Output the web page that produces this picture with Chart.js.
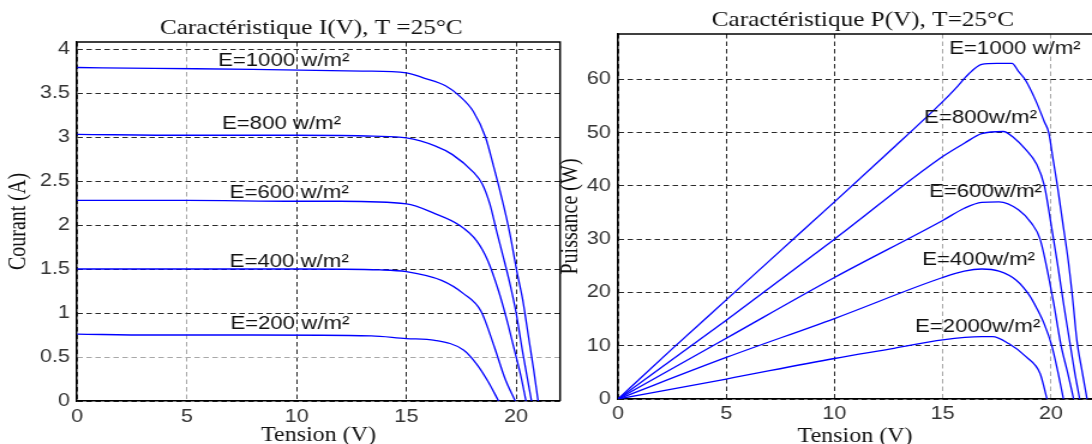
<!DOCTYPE html>
<html>
<head>
<meta charset="utf-8">
<title>Caractéristiques I(V) et P(V)</title>
<script src="https://cdn.jsdelivr.net/npm/chart.js@4"></script>
<style>
  html, body { margin: 0; padding: 0; background: #fff; }
  #wrap { position: relative; width: 1092px; height: 444px; overflow: hidden; }
  #wrap canvas { position: absolute; left: 0; top: 0; }
</style>
</head>
<body>
<div id="wrap">
  <canvas id="ivChart" width="910" height="444" style="width:1092px;height:444px"></canvas>
  <canvas id="pvChart" width="910" height="444" style="width:1092px;height:444px"></canvas>
</div>
<script>
// irradiance of each curve (W/m²)
const irradiance = [1000, 800, 600, 400, 200];

// I(V) curves
const ivVolts1000 = [0, 3.5, 8, 13, 15, 15.8, 16.8, 17.4, 18.05, 18.6, 19.0, 19.35, 19.7, 20.05, 20.3, 20.55, 20.8, 21.0];
const ivAmps1000  = [3.79, 3.78, 3.77, 3.75, 3.73, 3.67, 3.58, 3.47, 3.29, 3.0, 2.64, 2.3, 1.92, 1.45, 1.15, 0.75, 0.35, 0];
const ivVolts800  = [0, 5, 10, 13.5, 15, 16.3, 17.1, 18.05, 18.45, 18.8, 19.1, 19.4, 19.7, 20.0, 20.3, 20.7];
const ivAmps800   = [3.03, 3.02, 3.02, 3.01, 2.99, 2.9, 2.8, 2.6, 2.47, 2.24, 1.94, 1.65, 1.35, 1.0, 0.55, 0];
const ivVolts600  = [0, 5, 10, 12, 15, 16.3, 17.4, 18.2, 18.7, 19.2, 19.6, 19.9, 20.2, 20.45];
const ivAmps600   = [2.28, 2.28, 2.27, 2.27, 2.24, 2.13, 2.0, 1.82, 1.6, 1.25, 0.9, 0.6, 0.3, 0];
const ivVolts400  = [0, 5, 10, 13.8, 15, 16.6, 17.6, 18.4, 19.0, 19.5, 19.96];
const ivAmps400   = [1.5, 1.5, 1.5, 1.49, 1.47, 1.37, 1.22, 1.02, 0.62, 0.25, 0];
const ivVolts200  = [0, 3.4, 8, 13.4, 15, 16.3, 17.6, 18.2, 18.7, 19.2];
const ivAmps200   = [0.76, 0.75, 0.75, 0.74, 0.71, 0.69, 0.58, 0.42, 0.23, 0];

// P(V) curves
const pvVolts1000 = [0, 2.5, 5, 7.5, 10, 12.5, 15, 15.6, 16.2, 16.8, 17.5, 18.2, 18.5, 18.8, 19.3, 19.7, 19.9, 20.1, 20.3, 20.55, 20.8, 21.0, 21.2, 21.45, 21.67];
const pvWatts1000 = [0, 9.4, 18.6, 27.8, 37.0, 46.3, 55.8, 58.3, 61.0, 62.8, 63.0, 63.0, 61.5, 60, 56, 52, 50, 45, 40, 33, 26, 19, 11, 5, 0];
const pvVolts800  = [0, 5, 10, 15, 16, 16.8, 17.8, 18.3, 18.8, 19.35, 19.7, 20.0, 20.3, 20.6, 20.9, 21.1, 21.33];
const pvWatts800  = [0, 14.8, 30, 45.5, 48, 49.8, 50.2, 49, 47, 44, 40, 33, 25.5, 17.5, 10, 5, 0];
const pvVolts600  = [0, 5, 10, 15, 16, 16.8, 17.6, 18.5, 19.1, 19.5, 20.1, 20.47, 20.8, 21.05];
const pvWatts600  = [0, 11.4, 22.8, 33.5, 35.8, 36.9, 37, 35.5, 33, 30, 18.6, 10, 4.5, 0];
const pvVolts400  = [0, 5, 10, 15, 16, 16.8, 17.6, 18.4, 19.0, 19.35, 19.7, 20.04, 20.3, 20.58];
const pvWatts400  = [0, 7.8, 15.1, 22.8, 24.0, 24.4, 24.0, 22.3, 19.5, 17, 14, 10, 5.5, 0];
const pvVolts200  = [0, 5, 10, 12.75, 15, 16.8, 17.3, 18.05, 18.86, 19.5, 19.82];
const pvWatts200  = [0, 3.75, 7.6, 9.5, 11.1, 11.7, 11.7, 10.4, 7.9, 4.8, 0];

// ticks
const voltTicks = [0, 5, 10, 15, 20];
const currentTicks = [0, 0.5, 1, 1.5, 2, 2.5, 3, 3.5, 4];
const powerTicks = [0, 10, 20, 30, 40, 50, 60];

// curve annotations (text, then anchor in data units)
const ivNotes = ["E=1000 w/m²", "E=800 w/m²", "E=600 w/m²", "E=400 w/m²", "E=200 w/m²"];
const ivNoteV = [6.42, 6.6, 6.95, 6.95, 6.98];
const ivNoteI = [3.87, 3.15, 2.36, 1.58, 0.88];
const pvNotes = ["E=1000 w/m²", "E=800w/m²", "E=600w/m²", "E=400w/m²", "E=2000w/m²"];
const pvNoteV = [15.3, 14.14, 14.37, 14.05, 13.72];
const pvNoteP = [65.7, 52.7, 38.8, 26.1, 13.5];

const BLUE = "#0000ff";
const tickFont = { family: "Liberation Sans", size: 18 };
const axisTitleFont = { family: "Liberation Serif", size: 20, lineHeight: 1 };

function toPoints(xs, ys) {
  return xs.map((x, i) => ({ x: x, y: ys[i] }));
}

function curve(label, xs, ys) {
  return {
    label: label,
    data: toPoints(xs, ys),
    borderColor: BLUE,
    borderWidth: 1.3,
    pointRadius: 0,
    fill: false,
    cubicInterpolationMode: "monotone"
  };
}

// frame, curve labels and heading
const annotate = {
  id: "annotate",
  afterDatasetsDraw(chart, args, opts) {
    const { ctx, chartArea: a } = chart;
    const x = chart.scales.x, y = chart.scales.y;
    ctx.save();
    ctx.strokeStyle = "#000";
    ctx.lineWidth = 1.5;
    ctx.beginPath();
    ctx.moveTo(a.left, a.top);
    ctx.lineTo(a.right, a.top);
    if (opts.rightEdge) {
      ctx.lineTo(a.right, a.bottom);
    }
    ctx.stroke();

    ctx.fillStyle = "#111";
    ctx.font = '18.5px "Liberation Sans"';
    ctx.textAlign = "left";
    ctx.textBaseline = "middle";
    opts.texts.forEach((t, i) => {
      ctx.fillText(t, x.getPixelForValue(opts.xs[i]), y.getPixelForValue(opts.ys[i]));
    });

    ctx.font = '21px "Liberation Serif"';
    ctx.textAlign = "center";
    ctx.fillText(opts.heading, (a.left + a.right) / 2 + opts.headingDx, opts.headingY);
    ctx.restore();
  }
};

function gridColor(grey) {
  return c => (c.tick && grey.includes(c.tick.value) ? "#a8a8a8" : "#2a2a2a");
}

function xAxis(max, height, pad, titlePad, grey) {
  return {
    type: "linear",
    min: 0,
    max: max,
    afterBuildTicks: s => { s.ticks = voltTicks.map(v => ({ value: v })); },
    afterFit: s => { s.height = height; },
    ticks: { color: "#333", font: tickFont, padding: pad, maxRotation: 0, autoSkip: false, callback: v => String(v) },
    grid: { color: gridColor(grey), lineWidth: 1, drawTicks: false },
    border: { display: true, color: "#000", width: 1.5, dash: [4.5, 3] },
    title: { display: true, text: "Tension (V)", color: "#111", font: axisTitleFont, padding: { top: 0, bottom: titlePad } }
  };
}

function yAxis(max, tickList, title, titlePad, grey) {
  return {
    type: "linear",
    min: 0,
    max: max,
    afterBuildTicks: s => { s.ticks = tickList.map(v => ({ value: v })); },
    afterFit: s => { s.width = 60; },
    ticks: { color: "#333", font: tickFont, padding: 6, autoSkip: false, callback: v => String(v) },
    grid: { color: gridColor(grey), lineWidth: 1, drawTicks: false },
    border: { display: true, color: "#000", width: 1.5, dash: [4.5, 3] },
    title: { display: true, text: title, color: "#111", font: axisTitleFont, padding: { top: titlePad, bottom: 0 } }
  };
}

const ivCurves = [
  [ivVolts1000, ivAmps1000], [ivVolts800, ivAmps800], [ivVolts600, ivAmps600],
  [ivVolts400, ivAmps400], [ivVolts200, ivAmps200]
];
const pvCurves = [
  [pvVolts1000, pvWatts1000], [pvVolts800, pvWatts800], [pvVolts600, pvWatts600],
  [pvVolts400, pvWatts400], [pvVolts200, pvWatts200]
];

new Chart(document.getElementById("ivChart"), {
  type: "line",
  data: {
    datasets: ivCurves.map((c, i) => curve("E=" + irradiance[i], c[0], c[1]))
  },
  options: {
    responsive: false,
    animation: false,
    devicePixelRatio: 1,
    layout: { padding: { left: 4.2, right: 443.3, top: 42, bottom: 0 } },
    scales: {
      x: xAxis(22, 43, 5, -2, [5]),
      y: yAxis(4.08, currentTicks, "Courant (A)", 2, [0.5])
    },
    plugins: {
      legend: { display: false },
      tooltip: { enabled: false },
      annotate: {
        texts: ivNotes, xs: ivNoteV, ys: ivNoteI,
        heading: "Caractéristique I(V), T =25°C", headingDx: -6, headingY: 28,
        rightEdge: true
      }
    }
  },
  plugins: [annotate]
});

new Chart(document.getElementById("pvChart"), {
  type: "line",
  data: {
    datasets: pvCurves.map((c, i) => curve("E=" + irradiance[i], c[0], c[1]))
  },
  options: {
    responsive: false,
    animation: false,
    devicePixelRatio: 1,
    layout: { padding: { left: 455, right: 0, top: 34, bottom: 0 } },
    scales: {
      x: xAxis(21.9, 45, 4.5, -3, [15, 20]),
      y: yAxis(68.5, powerTicks, "Puissance (W)", 11, [])
    },
    plugins: {
      legend: { display: false },
      tooltip: { enabled: false },
      annotate: {
        texts: pvNotes, xs: pvNoteV, ys: pvNoteP,
        heading: "Caractéristique P(V), T=25°C", headingDx: 6.5, headingY: 20,
        rightEdge: false
      }
    }
  },
  plugins: [annotate]
});
</script>
</body>
</html>
